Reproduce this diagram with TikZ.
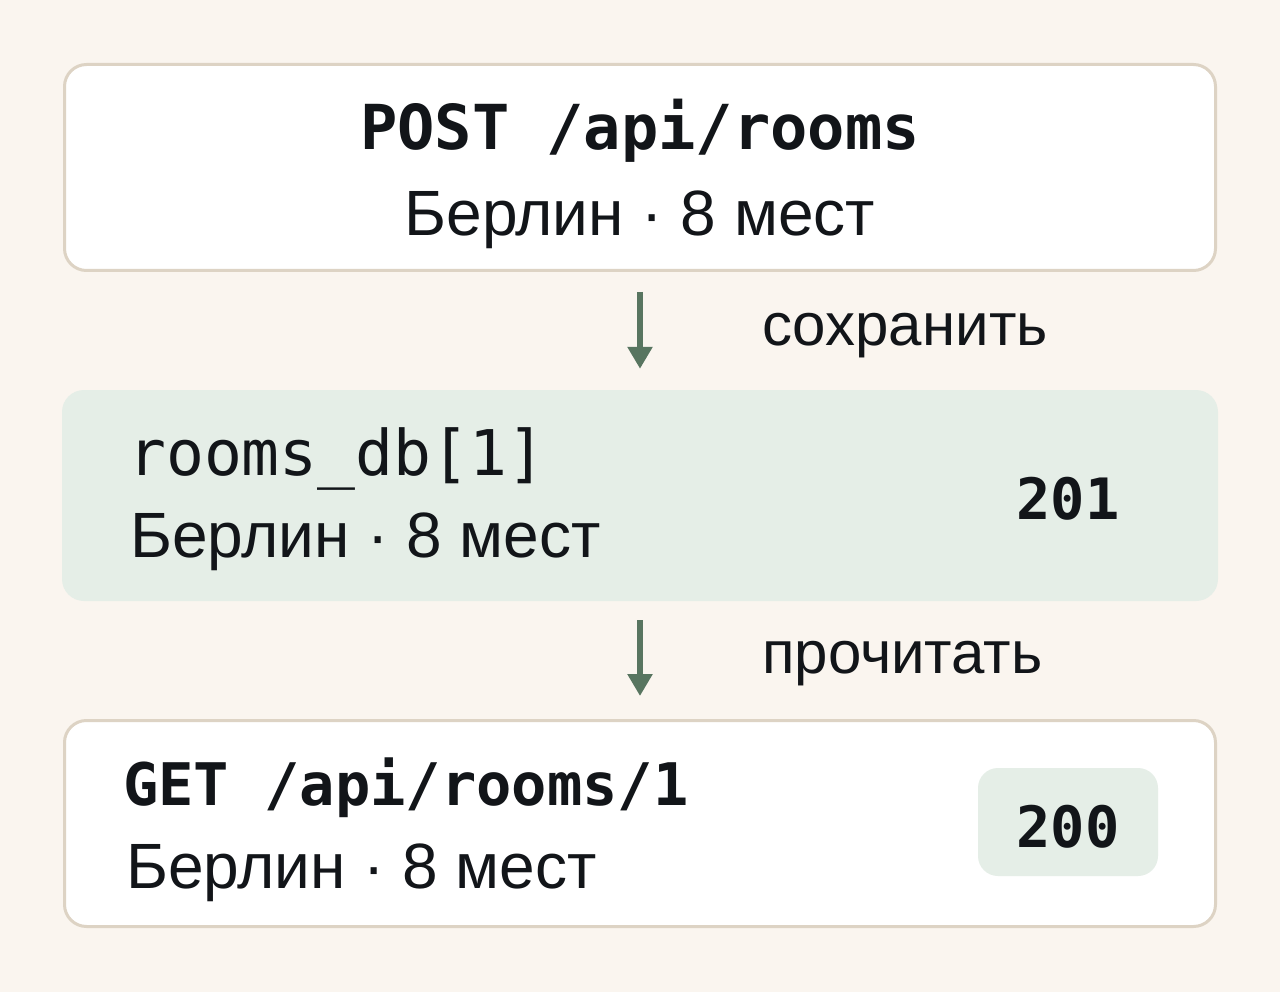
\documentclass[tikz,border=0pt]{standalone}
\usepackage{fontspec}
\setmainfont{Liberation Sans}
\setmonofont{DejaVu Sans Mono}
\usetikzlibrary{arrows.meta}
\definecolor{bgc}{HTML}{FAF5EF}
\definecolor{edgec}{HTML}{DDD3C4}
\definecolor{greenc}{HTML}{E5EEE7}
\definecolor{arrowc}{HTML}{587560}
\definecolor{inkc}{HTML}{121519}
\tikzset{
  card/.style={draw=edgec, line width=3pt, fill=white, rounded corners=22pt, minimum width=1151pt, minimum height=206pt, inner sep=0pt},
  storecard/.style={fill=greenc, rounded corners=22pt, minimum width=1156pt, minimum height=211pt, inner sep=0pt},
  badge/.style={fill=greenc, rounded corners=20pt, minimum width=180pt, minimum height=108pt, inner sep=0pt},
  flow/.style={draw=arrowc, line width=5.5pt, -{Triangle[width=24pt,length=22pt]}},
  sanstxt/.style={text=inkc, inner sep=0pt, font=\fontsize{64}{76}\selectfont},
  labeltxt/.style={text=inkc, inner sep=0pt, font=\fontsize{60}{72}\selectfont},
  monotxt/.style={text=inkc, inner sep=0pt, font=\fontsize{63}{74}\selectfont\ttfamily},
  monobold/.style={text=inkc, inner sep=0pt, font=\fontsize{62}{72}\selectfont\ttfamily\bfseries},
  monoget/.style={text=inkc, inner sep=0pt, font=\fontsize{58.7}{70}\selectfont\ttfamily\bfseries},
  monocode/.style={text=inkc, inner sep=0pt, font=\fontsize{57}{68}\selectfont\ttfamily\bfseries},
}
\begin{document}
\begin{tikzpicture}[x=1pt, y=-1pt]
\useasboundingbox (0,0) rectangle (1280,992);
\fill[bgc] (0,0) rectangle (1280,992);
% boxes
\node[card] (b1) at (640,167.5) {};
\node[storecard] (b2) at (640,495.5) {};
\node[card] (b3) at (640,823.5) {};
\node[badge] (bd) at (1068,822) {};
% texts
\node[monobold, anchor=base] (t1) at (640,150) {POST /api/rooms};
\node[sanstxt, anchor=base] (t2) at (640,236) {Берлин · 8 мест};
\node[monotxt, anchor=base west] (t3) at (128,475) {rooms\_db[1]};
\node[sanstxt, anchor=base west] (t4) at (130,557) {Берлин · 8 мест};
\node[monocode, anchor=base] (t5) at (1068,519) {201};
\node[monoget, anchor=base west] (t6) at (123,805) {GET /api/rooms/1};
\node[sanstxt, anchor=base west] (t7) at (126,888) {Берлин · 8 мест};
\node[monocode, anchor=base] (t8) at (1068,847) {200};
% arrows
\draw[flow] ([yshift=-20pt]b1.south) -- ([yshift=21pt]b2.north);
\draw[flow] ([yshift=-19pt]b2.south) -- ([yshift=23pt]b3.north);
\node[labeltxt, anchor=base west] (l1) at (762,345) {сохранить};
\node[labeltxt, anchor=base west] (l2) at (762,673) {прочитать};
\end{tikzpicture}
\end{document}
